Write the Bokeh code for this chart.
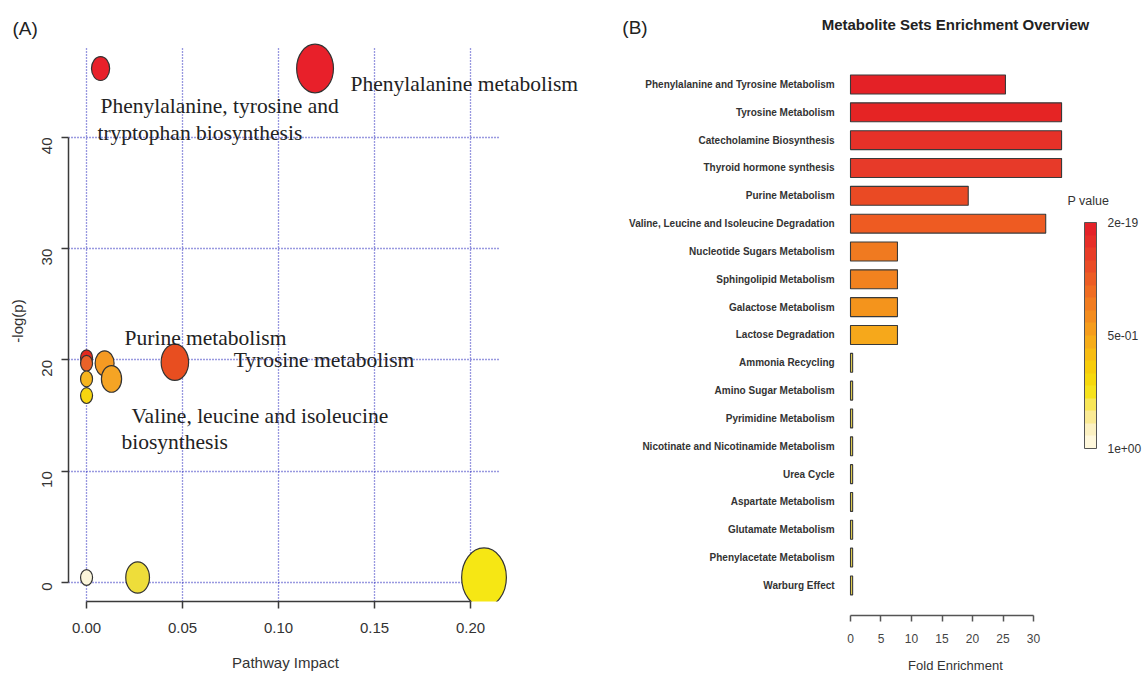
import math
from bokeh.plotting import figure
from bokeh.layouts import row, column
from bokeh.models import (Range1d, FixedTicker, ColumnDataSource, LabelSet, Label, Title,
                          ColorBar, LinearColorMapper, NumeralTickFormatter, LinearAxis)
from bokeh.core.properties import value
from bokeh.embed import file_html
from bokeh.resources import INLINE

# ---------------- Panel A data ----------------
pathway_impact = [0.0073, 0.119, 0.0, 0.0, 0.0, 0.0, 0.0094, 0.013, 0.046, 0.0, 0.0266, 0.207]
neg_log_p = [46.2, 46.2, 20.2, 19.7, 18.3, 16.8, 19.7, 18.3, 19.8, 0.45, 0.45, 0.45]
bubble_colors = ["#E8202A", "#E8202A", "#E3281E", "#EA6228", "#F6B51E", "#F7D60F",
                 "#F59A22", "#F5A424", "#E84E20", "#FBF5DA", "#EEDD3A", "#F6E714"]
x_ticks_a = [0.0, 0.05, 0.10, 0.15, 0.20]
y_ticks_a = [0, 10, 20, 30, 40]

label_texts = ["Phenylalanine metabolism", "Phenylalanine, tyrosine and",
               "tryptophan biosynthesis", "Purine metabolism", "Tyrosine metabolism",
               "Valine, leucine and isoleucine", "biosynthesis"]
label_x = [0.1375, 0.0073, 0.0057, 0.0198, 0.0766, 0.0234, 0.0182]
label_y = [44.85, 42.8, 40.36, 22.0, 20.0, 15.0, 12.6]

# ---------------- Panel B data ----------------
metabolite_sets = ["Phenylalanine and Tyrosine Metabolism", "Tyrosine Metabolism",
                   "Catecholamine Biosynthesis", "Thyroid hormone synthesis",
                   "Purine Metabolism", "Valine, Leucine and Isoleucine Degradation",
                   "Nucleotide Sugars Metabolism", "Sphingolipid Metabolism",
                   "Galactose Metabolism", "Lactose Degradation", "Ammonia Recycling",
                   "Amino Sugar Metabolism", "Pyrimidine Metabolism",
                   "Nicotinate and Nicotinamide Metabolism", "Urea Cycle",
                   "Aspartate Metabolism", "Glutamate Metabolism",
                   "Phenylacetate Metabolism", "Warburg Effect"]
fold_enrichment = [25.4, 34.6, 34.6, 34.6, 19.3, 32.0, 7.7, 7.7, 7.7, 7.7,
                   0.35, 0.35, 0.35, 0.35, 0.35, 0.35, 0.35, 0.35, 0.35]
bar_colors = ["#E42126", "#E52424", "#E63128", "#E73A29", "#EA4A24", "#EE5B22",
              "#F07A20", "#F2821F", "#F4941C", "#F6A81B",
              "#E6D250", "#E6D250", "#E6D250", "#E6D250", "#E6D250", "#E6D250",
              "#E6D250", "#E6D250", "#E6D250"]
x_ticks_b = [0, 5, 10, 15, 20, 25, 30]
pvalue_palette = ["#FFF8DC", "#FCF1C2", "#FAEA94", "#F8E658", "#F6E21C", "#F6D80C",
                  "#F7CC0A", "#F7BC12", "#F6AC18", "#F59C1C", "#F38C1E", "#F17C20",
                  "#EF6C22", "#EC5C24", "#EA4C26", "#E83C27", "#E62E28", "#E42228"]
pvalue_ticks = [0, 0.5, 1]
pvalue_tick_labels = ["1e+00", "5e-01", "2e-19"]

SANS = "Liberation Sans"
H = 677


def title_axis(pos, text, size, standoff, color="#333333"):
    """An extra axis (no line, no tick) whose single label acts as the axis title."""
    return LinearAxis(ticker=FixedTicker(ticks=[pos]), major_label_overrides={pos: text},
                      axis_line_color=None, major_tick_line_color=None,
                      minor_tick_line_color=None, major_tick_out=0, major_tick_in=0,
                      major_label_standoff=standoff, major_label_text_font=SANS,
                      major_label_text_font_size=size, major_label_text_color=color)


# ================= Panel A =================
pA = figure(width=600, height=H, x_range=Range1d(-0.0094, 0.2635),
            y_range=Range1d(-1.71, 48.72), output_backend="svg", toolbar_location=None,
            min_border_left=68, min_border_right=8, min_border_top=40,
            min_border_bottom=H - 601, outline_line_color=None)

wid = [12 + 72 * math.sqrt(v) for v in pathway_impact]
hei = [1.32 * w for w in wid]
srcA = ColumnDataSource(dict(x=pathway_impact, y=neg_log_p, w=wid, h=hei, c=bubble_colors))
pA.ellipse(x="x", y="y", width="w", height="h", width_units="screen", height_units="screen",
           fill_color="c", line_color="#333333", line_width=1.2, source=srcA)

pA.xgrid.ticker = FixedTicker(ticks=x_ticks_a)
pA.ygrid.ticker = FixedTicker(ticks=y_ticks_a)
for g in (pA.xgrid, pA.ygrid):
    g.grid_line_color = "#3232C0"
    g.grid_line_dash = "1 2"
    g.grid_line_width = 1.3
if "cross_bounds" in pA.ygrid.properties():
    pA.ygrid.cross_bounds = (-0.0094, 0.2156)
    pA.xgrid.cross_bounds = (-1.71, 48.1)

xa = pA.xaxis[0]
xa.ticker = FixedTicker(ticks=x_ticks_a)
xa.formatter = NumeralTickFormatter(format="0.00")
xa.bounds = (0, 0.2)
ya = pA.yaxis[0]
ya.ticker = FixedTicker(ticks=y_ticks_a)
ya.bounds = (0, 40)
ya.major_label_orientation = math.pi / 2
for ax in (xa, ya):
    ax.axis_line_color = "#3a3a3a"
    ax.axis_line_width = 1.5
    ax.major_tick_line_color = "#3a3a3a"
    ax.major_tick_line_width = 1.5
    ax.major_tick_out = 7
    ax.major_tick_in = 0
    ax.minor_tick_line_color = None
    ax.major_label_text_font = SANS
    ax.major_label_text_font_size = "15px"
    ax.major_label_text_color = "#333333"
    ax.axis_label_text_font = SANS
    ax.axis_label_text_font_size = "15px"
    ax.axis_label_text_font_style = "normal"
    ax.axis_label_text_color = "#333333"
xa.major_label_standoff = 14
ya.axis_label = "-log(p)"
ya.major_label_standoff = 14
ya.axis_label_standoff = 9
pA.add_layout(title_axis(0.1036, "Pathway Impact", "15px", 18), "below")

srcL = ColumnDataSource(dict(x=label_x, y=label_y, t=label_texts))
pA.add_layout(LabelSet(x="x", y="y", text="t", source=srcL, text_font=value("Liberation Serif"),
                       text_font_size="21.5px", text_color="#222222",
                       text_baseline="middle", text_align="left"))
pA.add_layout(Title(text="(A)", align="left", offset=-56, standoff=3, text_font=SANS,
                    text_font_size="19px", text_font_style="normal", text_color="#222222"),
              "above")

# ================= Panel B =================
pB = figure(width=543, height=H, x_range=Range1d(-40.98, 48.03),
            y_range=Range1d(19.08, -3.018), output_backend="svg", toolbar_location=None,
            y_axis_location=None, min_border_left=0, min_border_right=0, min_border_top=0,
            min_border_bottom=H - 615, outline_line_color=None)
pB.grid.visible = False
idx = list(range(len(metabolite_sets)))
srcB = ColumnDataSource(dict(y=idx, r=fold_enrichment, c=bar_colors, n=metabolite_sets,
                             lx=[-2.6] * len(idx)))
pB.hbar(y="y", left=0, right="r", height=0.68, fill_color="c", line_color="#3a3a3a",
        line_width=1.1, source=srcB)
pB.add_layout(LabelSet(x="lx", y="y", text="n", source=srcB, text_font=value(SANS),
                       text_font_style="bold", text_font_size="10px", text_color="#333333",
                       text_align="right", text_baseline="middle"))

xb = pB.xaxis[0]
xb.ticker = FixedTicker(ticks=x_ticks_b)
xb.bounds = (0, 30)
xb.axis_line_color = "#555555"
xb.axis_line_width = 1.5
xb.major_tick_line_color = "#555555"
xb.major_tick_line_width = 1.5
xb.major_tick_out = 6
xb.major_tick_in = 0
xb.minor_tick_line_color = None
xb.major_label_text_font = SANS
xb.major_label_text_font_size = "12px"
xb.major_label_text_color = "#444444"
xb.major_label_standoff = 12
pB.add_layout(title_axis(17.2, "Fold Enrichment", "13px", 12), "below")

mapper = LinearColorMapper(palette=pvalue_palette, low=0, high=1)
cb = ColorBar(color_mapper=mapper, ticker=FixedTicker(ticks=pvalue_ticks),
              major_label_overrides={t: s for t, s in zip(pvalue_ticks, pvalue_tick_labels)},
              width=12, height=226, padding=0, margin=0, label_standoff=11,
              major_label_text_font=SANS,
              major_label_text_font_size="12px", major_label_text_color="#333333",
              bar_line_color="#555555", major_tick_line_color=None,
              border_line_color=None, background_fill_color=None, location=(484, 167))
pB.add_layout(cb, "center")

pB.add_layout(Label(x=35.57, y=4.2, text="P value", text_font=SANS,
                    text_font_size="12.5px", text_color="#333333", text_baseline="middle"))
pB.add_layout(Label(x=17.2, y=-2.156, text="Metabolite Sets Enrichment Overview",
                    text_font=SANS, text_font_style="bold",
                    text_font_size="15px", text_color="#222222", text_baseline="middle",
                    text_align="center"))
pB.add_layout(Label(x=-37.4, y=-2.05, text="(B)", text_font=SANS,
                    text_font_size="19px", text_color="#222222", text_baseline="middle"))

layout = row(column(pA), column(pB))
open("out.html", "w").write(file_html(layout, INLINE))
